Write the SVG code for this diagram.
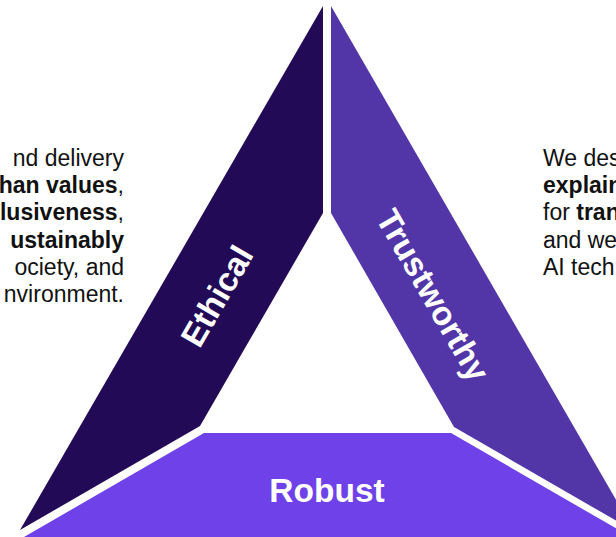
<svg xmlns="http://www.w3.org/2000/svg" width="616" height="537" viewBox="0 0 616 537">
<style>
.lbl{font-family:"Liberation Sans",Arial,sans-serif;font-weight:bold;font-size:33.5px;fill:#ffffff;text-anchor:middle}
.body{font-family:"Liberation Sans",Arial,sans-serif;font-size:23px;fill:#111111}
.b{font-weight:bold}
</style>
<rect width="616" height="537" fill="#ffffff"/>
<g id="ethical">
<polygon points="323,6 323,213 200,426 20,530" fill="#220A57"/>
<text class="lbl" transform="translate(227,302) rotate(-60)">Ethical</text>
</g>
<g id="trustworthy">
<polygon points="331,6 331,213 454,427 634,531" fill="#5236A8"/>
<text class="lbl" transform="translate(423,301) rotate(60)">Trustworthy</text>
</g>
<g id="robust">
<polygon points="204,433 451,433 631,537 24,537" fill="#6E41E9"/>
<text class="lbl" x="327" y="502">Robust</text>
</g>
<g id="connectors"></g>
<g id="left-text" class="body" text-anchor="end">
<text x="124" y="166">nd delivery</text>
<text x="124" y="193"><tspan class="b">han values</tspan>,</text>
<text x="124" y="220"><tspan class="b">lusiveness</tspan>,</text>
<text x="124" y="248" class="b">ustainably</text>
<text x="124" y="275">ociety, and</text>
<text x="124" y="302">nvironment.</text>
</g>
<g id="right-text" class="body">
<text x="543" y="166">We des</text>
<text x="543" y="193" class="b">explain</text>
<text x="543" y="220">for <tspan class="b">tran</tspan></text>
<text x="543" y="248">and we</text>
<text x="543" y="275">AI tech</text>
</g>
</svg>
